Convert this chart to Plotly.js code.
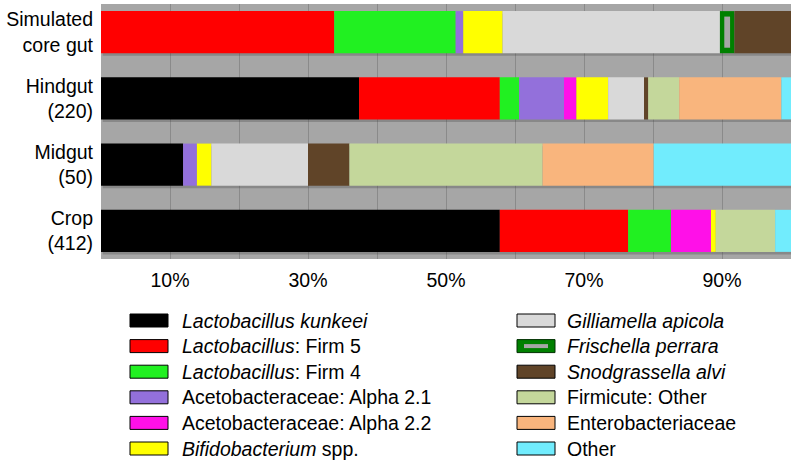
<!DOCTYPE html>
<html>
<head>
<meta charset="utf-8">
<script src="https://cdn.plot.ly/plotly-3.0.1.min.js"></script>
<style>
  body { margin: 0; background: #fff; }
  #chart { width: 798px; height: 468px; }
</style>
</head>
<body>
<div id="chart"></div>
<script>
// gut regions, top to bottom
var groups = ['Simulated<br>core gut', 'Hindgut<br>(220)', 'Midgut<br>(50)', 'Crop<br>(412)'];

// percent of reads per group (same order as groups)
var kunkeei   = [0,    37.4, 11.9, 57.8];
var firm5     = [33.8, 20.4, 0,    18.6];
var firm4     = [17.6, 2.8,  0,    6.2];
var alpha21   = [1.1,  6.5,  2.0,  0];
var alpha22   = [0,    1.8,  0,    5.8];
var bifido    = [5.7,  4.6,  2.1,  0.7];
var gilli     = [31.5, 5.2,  14.0, 0];
var frisch    = [2.1,  0,    0,    0];
var snod      = [8.2,  0.6,  6.0,  0];
var firmOther = [0,    4.5,  28.0, 8.6];
var entero    = [0,    14.8, 16.1, 0];
var other     = [0,    1.4,  19.9, 2.3];

var names = [
  '<i>Lactobacillus kunkeei</i>',
  '<i>Lactobacillus</i>: Firm 5',
  '<i>Lactobacillus</i>: Firm 4',
  'Acetobacteraceae: Alpha 2.1',
  'Acetobacteraceae: Alpha 2.2',
  '<i>Bifidobacterium</i> spp.',
  '<i>Gilliamella apicola</i>',
  '<i>Frischella perrara</i>',
  '<i>Snodgrassella alvi</i>',
  'Firmicute: Other',
  'Enterobacteriaceae',
  'Other'
];
var colors = ['#000000', '#ff0000', '#21f021', '#9370db', '#ff10e8', '#ffff00',
              '#d9d9d9', '#008000', '#604428', '#c4d79b', '#f9b57d', '#71ecfd'];
var series = [kunkeei, firm5, firm4, alpha21, alpha22, bifido,
              gilli, frisch, snod, firmOther, entero, other];

var barW = 0.635;
var font = 'Arial, "Liberation Sans", sans-serif';

// soft shadow under each row
var totals = groups.map(function (g, i) {
  return series.reduce(function (s, arr) { return s + arr[i]; }, 0);
});
var traces = [{
  type: 'bar', orientation: 'h', y: groups, x: totals,
  base: 0.25, width: barW, offset: -barW / 2 + 0.04,
  marker: { color: 'rgba(60,60,60,0.28)' }, hoverinfo: 'skip'
}];

// stacked segments with explicit bases
var cum = groups.map(function () { return 0; });
var frischStart = [];
series.forEach(function (vals, k) {
  if (k === 7) frischStart = cum.slice();
  traces.push({
    type: 'bar', orientation: 'h', name: names[k],
    y: groups, x: vals, base: cum.slice(), width: barW,
    marker: { color: colors[k], line: { width: 0 } }
  });
  cum = cum.map(function (c, i) { return c + vals[i]; });
});

// grey core inside the Frischella segment
traces.push({
  type: 'bar', orientation: 'h', y: groups,
  x: frisch.map(function (v) { return v * 0.4; }),
  base: frisch.map(function (v, i) { return frischStart[i] + v * 0.3; }),
  width: 0.47, marker: { color: '#a6a6a6' }, hoverinfo: 'skip'
});

// legend drawn as two columns of swatches and labels
var L = 101, T = 4, W = 690, H = 255;
function px(x) { return (x - L) / W; }
function py(y) { return (T + H - y) / H; }
var shapes = [], annotations = [];
names.forEach(function (n, k) {
  var col = k < 6 ? 0 : 1, row = k % 6;
  var sx = col ? 517 : 130, tx = col ? 565 : 180;
  var cy = 320.5 + row * 25.6;
  shapes.push({
    type: 'rect', xref: 'paper', yref: 'paper',
    x0: px(sx), x1: px(sx + 38), y0: py(cy - 6.5), y1: py(cy + 6.5),
    fillcolor: colors[k], line: { color: k === 7 ? '#003000' : '#000', width: 1 }
  });
  if (k === 7) {
    shapes.push({
      type: 'rect', xref: 'paper', yref: 'paper',
      x0: px(sx + 7), x1: px(sx + 31), y0: py(cy - 2), y1: py(cy + 2),
      fillcolor: '#a6a6a6', line: { width: 0 }
    });
  }
  annotations.push({
    xref: 'paper', yref: 'paper', x: px(tx), y: py(cy),
    xanchor: 'left', yanchor: 'middle', showarrow: false, text: n,
    font: { family: font, size: 19.5, color: '#000' }
  });
});

var layout = {
  width: 798, height: 468,
  margin: { l: 101, r: 7, t: 4, b: 209 },
  paper_bgcolor: '#ffffff', plot_bgcolor: '#a6a6a6',
  barmode: 'overlay', showlegend: false,
  font: { family: font, size: 19.5, color: '#000' },
  xaxis: {
    range: [0, 100], fixedrange: true,
    tickvals: [10, 20, 30, 40, 50, 60, 70, 80, 90],
    ticktext: ['10%', '', '30%', '', '50%', '', '70%', '', '90%'],
    showgrid: true, gridcolor: '#8a8a8a', gridwidth: 1,
    zeroline: false, showline: false, ticks: '', ticklabelstandoff: 7
  },
  yaxis: {
    type: 'category', categoryorder: 'array', categoryarray: groups,
    range: [3.425, -0.425], fixedrange: true,
    showgrid: false, zeroline: false, showline: false, ticks: '',
    ticklabelstandoff: 7
  },
  shapes: shapes,
  annotations: annotations
};

Plotly.newPlot('chart', traces, layout, { displayModeBar: false, staticPlot: true });
</script>
</body>
</html>
